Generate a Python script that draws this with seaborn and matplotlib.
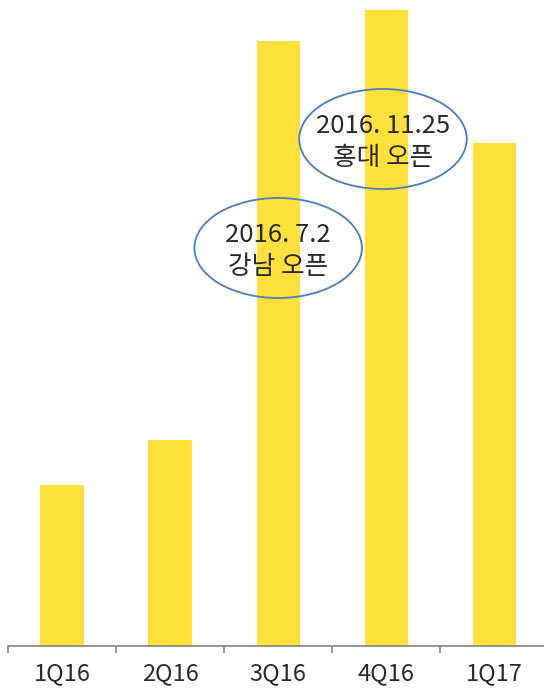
import numpy as np
import pandas as pd
import matplotlib
matplotlib.use("Agg")
import matplotlib.pyplot as plt
from matplotlib.patches import Ellipse
import seaborn as sns

# 분기별 값 (그림에서 읽은 상대 높이)
quarters = ["1Q16", "2Q16", "3Q16", "4Q16", "1Q17"]
values = [161, 206, 605, 636, 503]

# 주석 (말풍선 타원)
notes = ["2016. 7.2\n강남 오픈", "2016. 11.25\n홍대 오픈"]
note_pos = [(2.00, 398), (2.97, 507)]

sns.set_theme(style="white")
plt.rcParams["font.family"] = ["Noto Sans CJK KR", "DejaVu Sans"]

df = pd.DataFrame({"quarter": quarters, "value": values})

fig = plt.figure(figsize=(5.44, 6.91), dpi=100)
ax = fig.add_axes([8 / 544, 45 / 691, 536 / 544, 646 / 691])

sns.barplot(data=df, x="quarter", y="value", color="#FFE03C",
            saturation=1, width=0.40, linewidth=0, ax=ax)

ax.set_xlim(-0.5, 4.46)
ax.set_ylim(0, 646)
ax.set_xlabel("")
ax.set_ylabel("")
ax.set_yticks([])
for s in ["top", "left", "right"]:
    ax.spines[s].set_visible(False)
ax.spines["bottom"].set_color("#8c8c8c")
ax.spines["bottom"].set_linewidth(1.3)

ax.set_xticks(range(len(quarters)))
ax.set_xticklabels(quarters, fontsize=17, color="#2a2a2a")
ax.tick_params(axis="x", which="major", length=0, pad=12)
ax.set_xticks(np.arange(-0.5, 4.0, 1.0), minor=True)
ax.tick_params(axis="x", which="minor", bottom=True, length=5, width=1.3,
               color="#8c8c8c", direction="out")

for txt, (cx, cy) in zip(notes, note_pos):
    ax.add_patch(Ellipse((cx, cy), 1.55, 100, fill=False,
                         edgecolor="#4A7EBB", linewidth=1.3, zorder=5))
    ax.text(cx, cy - 3, txt, ha="center", va="center", fontsize=18.5,
            color="#2a2a2a", linespacing=1.3, zorder=6)

fig.savefig("out.png", dpi=100)
